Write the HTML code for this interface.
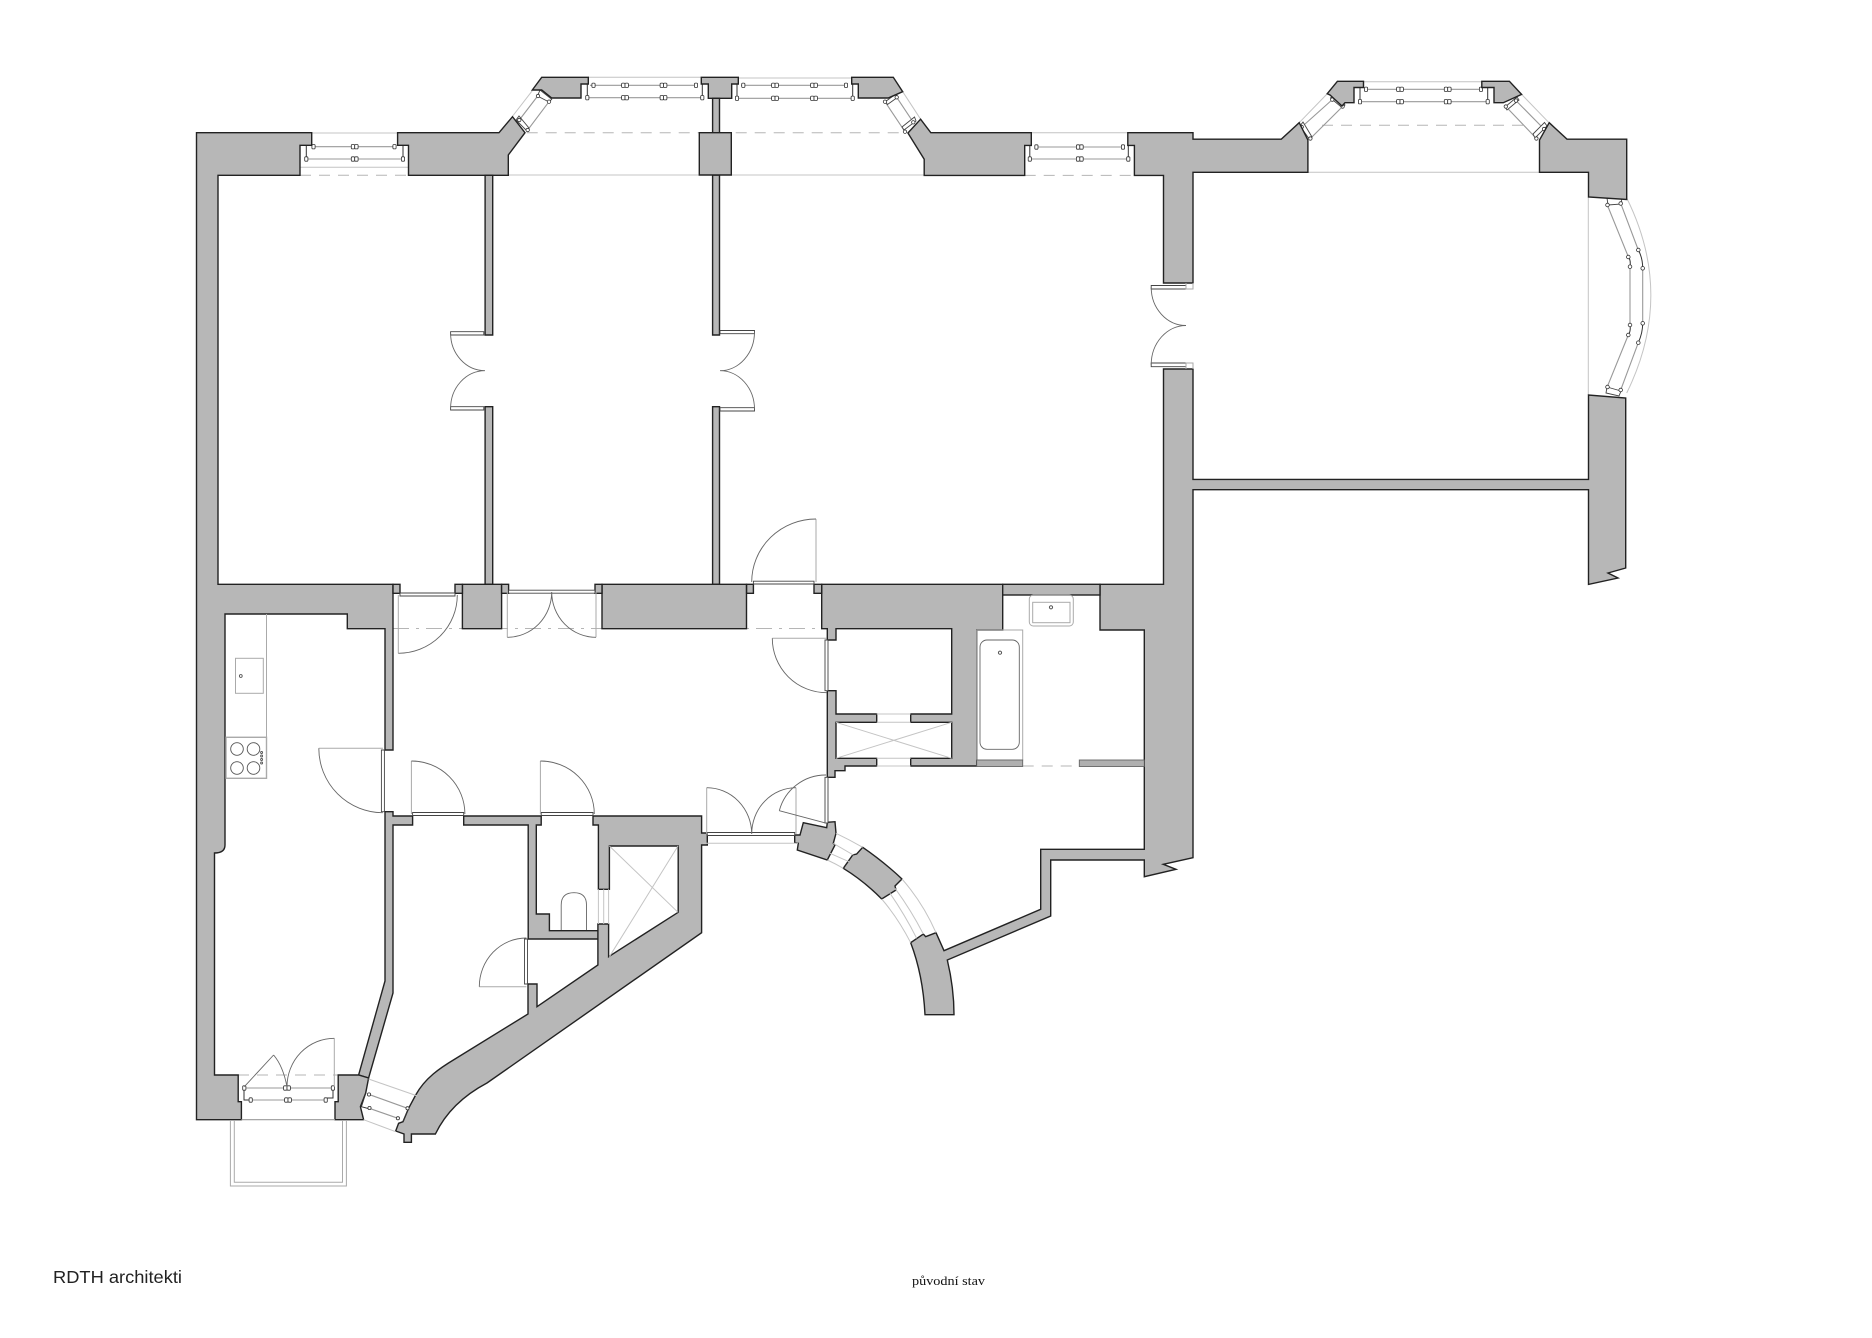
<!DOCTYPE html>
<html><head><meta charset="utf-8"><style>
html,body{margin:0;padding:0;background:#fff}
svg{display:block}
.w{fill:#b7b7b7;stroke:#222;stroke-width:1.4;stroke-linejoin:miter}
.l{fill:none;stroke:#c4c4c4;stroke-width:1}
.g{fill:none;stroke:#999;stroke-width:1.1}
.da{fill:none;stroke:#b5b5b5;stroke-width:1;stroke-dasharray:11 8}
.db{fill:none;stroke:#b5b5b5;stroke-width:1;stroke-dasharray:16 7 3 7}
.a{fill:none;stroke:#666;stroke-width:.9}
.f{fill:none;stroke:#aaa;stroke-width:1}
.k{fill:none;stroke:#333;stroke-width:1}
.fr{fill:#fff;stroke:#444;stroke-width:.9}
#d rect,#o rect{fill:#fff;stroke:#333;stroke-width:.8}
.m circle{fill:#fff;stroke:#333;stroke-width:.8}
</style></head><body>
<svg width="1872" height="1338" viewBox="0 0 1872 1338" xmlns="http://www.w3.org/2000/svg">
<rect width="1872" height="1338" fill="#fff"/>
<defs>
<g id="d"><rect x="-3.4" y="-2.2" width="3.4" height="4.4" rx="1"/><rect x="0" y="-2.2" width="3.4" height="4.4" rx="1"/></g>
<g id="o"><rect x="-1.6" y="-2.2" width="3.2" height="4.4" rx="1"/></g>
</defs>

<!-- light lines and dashes -->
<path class="l" d="M311.7 133H397.6M300 167.3H408.5M588 77.3H701.3M738.3 78H851.7M1031 132.7H1127.8M1363.5 81.7H1481.8M508 175H699M731 175H924M1308 172.3H1539.5"/>
<path class="da" d="M300 175.3H408.5M526.7 132.7H905M1024.7 175.4H1134.4M1322 125.3H1526M1022.7 766H1079.3M238 1075H338"/>
<path class="db" d="M393 628.5H821.7"/>
<path class="g" d="M313 146.7H394.6M306.3 159H403"/>
<path class="g" d="M590 85.3H697M587 97.7H702.7M741 85.3H846M737 98.3H852.7M1036.4 147H1123M1029.8 159H1128.3M1366 89.3H1481M1360 101.7H1487.7M244 1088H333M250.7 1100H325.7"/>

<!-- diagonal windows -->
<path class="l" d="M532.3 90.7L512.7 116M902.7 91.7L920.7 119.3M1327 94L1299.2 122.7M1521.6 94.4L1549 122.7"/>
<path class="g" d="M537.7 96L519.3 120M549 101.7L527.7 130M896.7 97.3L913.3 122.3M885 101.7L905 131.7M1332.3 99.6L1301.7 127M1342.6 106.5L1310.4 138.5M1516 100.6L1544 129M1505.8 106.5L1536.4 138.5"/>
<path class="fr" d="M537.5 96L540 90L551.7 99.3L549 102ZM516 120L519 116L529 128L527 131ZM885.5 101.5L896 94L898 97L887.5 104.5ZM904 130L916 121L914.5 117L902 127ZM1330.5 98L1333 96L1345 105L1342.5 108ZM1300 126L1303 122L1312 137L1310 140ZM1505 107L1517 97L1519 100L1507 110ZM1535 138L1547 126L1544.5 122.5L1533 134Z"/>

<!-- bow window -->
<path class="l" d="M1588.3 197V395M1626.7 198Q1675 295 1626.7 393"/>
<path class="g" d="M1620.7 203.3L1638.3 250M1642.7 268.3V323.3M1638.3 342.7L1620.7 390M1607.3 205L1628.3 256.7M1630 266.7V325M1628.3 335L1607.3 386.7"/>
<path class="k" d="M1638.3 250Q1642.7 258 1642.7 268.3M1642.7 323.3Q1642.7 333 1638.3 342.7M1628.3 257Q1631 260 1630 266.7M1630 325Q1631 331 1628.3 335"/>
<path class="fr" d="M1607 198L1621 196L1622 204L1608 205ZM1607 387L1621 391L1619 396L1606 393Z"/>

<!-- top-window framing -->
<path class="k" d="M306.3 146V159M403 146V159M587.3 84V97.7M702.3 84V97.7M737 84V98.3M852.7 84V98.3M1029.8 146V159M1128.3 146V159M1360 88V101.7M1487.7 88V101.7M244 1087V1090M244 1090V1100H250M333 1087V1098H326"/>

<g>
<use href="#o" x="313.5" y="146.7"/><use href="#d" x="354.7" y="146.7"/><use href="#o" x="394.5" y="146.7"/>
<use href="#o" x="306.3" y="159"/><use href="#d" x="354.7" y="159"/><use href="#o" x="403" y="159"/>
<use href="#o" x="593.5" y="85.3"/><use href="#d" x="625" y="85.3"/><use href="#d" x="663.5" y="85.3"/><use href="#o" x="696" y="85.3"/>
<use href="#o" x="587.3" y="97.7"/><use href="#d" x="625" y="97.7"/><use href="#d" x="663.5" y="97.7"/><use href="#o" x="702.3" y="97.7"/>
<use href="#o" x="743.3" y="85.3"/><use href="#d" x="775" y="85.3"/><use href="#d" x="814" y="85.3"/><use href="#o" x="846" y="85.3"/>
<use href="#o" x="737" y="98.3"/><use href="#d" x="775" y="98.3"/><use href="#d" x="814" y="98.3"/><use href="#o" x="852.7" y="98.3"/>
<use href="#o" x="1036.4" y="147"/><use href="#d" x="1079.8" y="147"/><use href="#o" x="1123" y="147"/>
<use href="#o" x="1029.8" y="159"/><use href="#d" x="1079.8" y="159"/><use href="#o" x="1128.3" y="159"/>
<use href="#o" x="1366" y="89.3"/><use href="#d" x="1400" y="89.3"/><use href="#d" x="1447.7" y="89.3"/><use href="#o" x="1481" y="89.3"/>
<use href="#o" x="1360" y="101.7"/><use href="#d" x="1400" y="101.7"/><use href="#d" x="1447.7" y="101.7"/><use href="#o" x="1487.7" y="101.7"/>
<use href="#o" x="244.3" y="1088"/><use href="#d" x="287" y="1088"/><use href="#o" x="332.9" y="1088"/>
<use href="#o" x="250.7" y="1100"/><use href="#d" x="288" y="1100"/><use href="#o" x="325.7" y="1100"/>
</g>
<g class="m">
<circle cx="538" cy="96" r="1.7"/><circle cx="549" cy="101.7" r="1.7"/><circle cx="519.3" cy="120" r="1.7"/><circle cx="527.7" cy="130" r="1.7"/>
<circle cx="896.7" cy="97.3" r="1.7"/><circle cx="885" cy="101.7" r="1.7"/><circle cx="913.3" cy="122.3" r="1.7"/><circle cx="905" cy="131.7" r="1.7"/>
<circle cx="1332.3" cy="99.6" r="1.7"/><circle cx="1342.6" cy="106.5" r="1.7"/><circle cx="1301.7" cy="127" r="1.7"/><circle cx="1310.4" cy="138.5" r="1.7"/>
<circle cx="1516" cy="100.6" r="1.7"/><circle cx="1505.8" cy="106.5" r="1.7"/><circle cx="1544" cy="129" r="1.7"/><circle cx="1536.4" cy="138.5" r="1.7"/>
<circle cx="1607.5" cy="205" r="1.8"/><circle cx="1620.7" cy="203.5" r="1.8"/><circle cx="1607.5" cy="387" r="1.8"/><circle cx="1620.7" cy="390" r="1.8"/>
<circle cx="1638.3" cy="250" r="1.8"/><circle cx="1642.7" cy="268.3" r="1.8"/><circle cx="1642.7" cy="323.3" r="1.8"/><circle cx="1638.3" cy="342.7" r="1.8"/>
<circle cx="1628.3" cy="257" r="1.8"/><circle cx="1630" cy="266.7" r="1.8"/><circle cx="1630" cy="325" r="1.8"/><circle cx="1628.3" cy="335" r="1.8"/>
</g>

<!-- walls -->
<path class="w" d="M196.5 132.7H311.7V145.3H300V175.3H218V584.3H393V750H385V628.7H347.3V614H225V845Q225 853 214.5 853V1075H238.2V1101.7H241.4V1119.7H196.5Z"/>
<path class="w" d="M397.6 132.7H499L512.5 116.7L525 132.7L508.3 155V175.3H408.5V145.3H397.6Z"/>
<path class="w" d="M541.7 77.3H588.3V84H581V98H551.7L541.7 90H532.3Z"/>
<path class="w" d="M701.3 77.3H738.3V84H731.7V98.3H708.3V84H701.3Z"/>
<path class="w" d="M851.7 77.3H893.3L902.7 91.7L888.3 98H858.3V84H851.7Z"/>
<path class="w" d="M712.6 98.3H719.5V132.7H712.6ZM712.6 175H719.5V335H712.6ZM712.6 406.7H719.5V584.3H712.6ZM485.1 175.3H492.7V335H485.1ZM485.1 406.7H492.7V584.3H485.1Z"/>
<path class="w" d="M699.3 132.7H731.3V175H699.3Z"/>
<path class="w" d="M930.8 132.7H1031.3V145.4H1024.7V175.4H924.2V159.2L907.9 133L920.6 119.2Z"/>
<path class="w" d="M1127.8 132.7H1193V139.2H1281.3L1299.2 122.7L1307.9 140V172.3H1193V283H1163.5V175.4H1134.4V145.4H1127.8Z"/>
<path class="w" d="M1337.4 81.3H1363.5V87.5H1354V102.7H1345L1342 106L1330 95L1327.2 93.7Z"/>
<path class="w" d="M1481.8 81.3H1509.4L1521.6 94.4L1503.3 102.7H1494V87.5H1481.8Z"/>
<path class="w" d="M1549.2 122.7L1567 139.2H1626.7V199.5L1588.5 197V172.3H1539.5V140Z"/>
<path class="w" d="M1163.5 369H1193V479.4H1588.5V395L1625.7 398V568L1608 573L1618 578L1588.5 584.4V489.7H1193V857.7L1163.3 864.3L1176 869.3L1144.3 876.7V860H1050.7V916L947.3 960Q954 988 954 1014.7H925Q923 975 910.7 942.7L923.3 934L925.7 936.7L936 932.7L944 950.7L1040.7 909.3V849.3H1144.3V630H1100V584.3H1163.5Z"/>
<path class="w" d="M821.7 584.3H1002.7V630H976.7V766H910.7V758.3H951.7V722.3H910.7V714H951.7V628.7H836V640H827.3V628.7H821.7Z"/>
<path class="w" d="M827.3 690.7H836V714H876.7V722.3H836V758.3H876.7V766H845V770.7H835V777.3H827.3Z"/>
<rect class="w" x="1002.7" y="584.3" width="97.3" height="10.7"/>
<path class="w" d="M462.4 584.3H501.6V628.7H462.4ZM602 584.3H746.5V628.7H602Z"/>
<path class="w" d="M393 584.3H400V593.3H393ZM455 584.3H462.4V593.3H455ZM501.6 584.3H508.6V593.3H501.6ZM595 584.3H602V593.3H595ZM746.6 584.3H753.4V593.3H746.6ZM814 584.3H821.7V593.3H814Z"/>
<path class="w" d="M385 811.7H393V816H412.6V825H393V993L368.6 1078L358.6 1075L385 981Z"/>
<path class="w" d="M463.7 816H541.2V825H536.3V914H549.4V930.7H598.4V939H528.2V825H463.7Z"/>
<path class="w" d="M338.2 1075H358.6L368.6 1078L365.7 1093L360.4 1106.7L363.6 1119.7H335V1101.7H338.2Z"/>
<path class="w" d="M593 816H701.6V833H707.3V845H701.6V932.7L487 1083C470 1092 448 1108 435.4 1134H411.4V1142.3H404V1134L395.7 1131L398.6 1123.3L403 1121.7L408.6 1108.3L415.7 1095C425 1078 440 1068 455 1059L528 1014V984H537V1006.7L597.9 965V924H608.6V956.7L678.2 912.3V846H609.4V889.3H598.4V825H593Z"/>
<path class="w" d="M803.3 822.7L826.7 827.7L827.3 822.3L835 821.7L836 833.3L833.3 843.3L835 845L827.3 860L797.3 850L798.3 843.3L794.7 842.7L794.7 835L800 835Z"/>
<path class="w" d="M862.7 847.3Q884 862 902 879L895 886L896 890L881.7 899Q864 881 843.3 868.3L852.7 855L856.7 854Z"/>

<!-- curved bay light lines -->
<path class="l" d="M836 833.3Q850 840 862.7 847.3M827.3 860Q836 864 843.3 868.3M833.3 843.3L853.3 855M830 853.3L849 861.7M902 879Q923 903 936 932.7M881.7 899Q898 918 910.7 942.7M895 888.3Q911 910 923.3 934M890 893.3Q905 915 916.7 938.3"/>

<!-- bottom-left bay window -->
<path class="l" d="M368.6 1079L417.5 1096M363.6 1119.7L395.7 1131.7"/>
<path class="g" d="M368.6 1094.3L407.5 1108.3M369.3 1108.3L397.9 1118.3"/>
<path class="k" d="M365.7 1093.3L361.4 1106.7L370 1109M403 1121.7L408.6 1108.3"/>
<g class="m"><circle cx="369" cy="1094.5" r="1.6"/><circle cx="369.5" cy="1108" r="1.6"/><circle cx="407.5" cy="1108.3" r="1.6"/><circle cx="397.9" cy="1118.3" r="1.6"/></g>

<!-- central door leaves -->
<g>
<path class="fr" d="M450.6 331.7H483.8V335H450.6ZM450.6 406.7H483.8V410H450.6ZM720 330.5H754.5V333.7H720ZM720 407.7H754.5V411H720ZM1151.2 285.5H1186V289H1151.2ZM1151.2 363H1186V366.7H1151.2Z"/>
<path class="f" d="M1186 283V289H1193V283M1186 369V363H1193V369"/>
<path class="a" d="M450.6 333.3A34.5 37.4 0 0 0 485 370.7A34.5 37.6 0 0 0 450.6 408.3M754.5 331.7A34.5 39 0 0 1 720 370.7A34.5 38.6 0 0 1 754.5 409.3M1151.2 287.3A34.8 38.2 0 0 0 1186 325.5A34.8 39.3 0 0 0 1151.2 364.8"/>
</g>

<!-- door frames -->
<path class="fr" d="M400 593H455V596H400ZM508.6 590.2H595V593.2H508.6ZM753.4 581.2H814V584H753.4ZM412.6 812.5H463.7V815.5H412.6ZM541.2 812.5H593V815.5H541.2ZM707.3 832.5H794.7V835.5H707.3ZM381.4 750H384.4V811.7H381.4ZM825 640H828V690.7H825ZM825 777.3H828V823H825ZM524.5 939H527.5V984H524.5Z"/>
<path class="l" d="M703 843.3H798"/>

<!-- door leaves and swings -->
<path class="f" d="M398.3 595V653.3M507.3 592V637.3M596 592V637.3M816 582V519M826.7 638.3H772.3M382.9 748.3H318.8M411.4 814V761M540.4 814V761M706.7 834V787.7M796 834V787.7M526.4 986.7H479.3M334.3 1086.7V1038.3"/>
<path class="a" d="M398.3 653.3A59 58.3 0 0 0 457.3 595M507.3 637.3A44.4 45.3 0 0 0 551.7 592M596 637.3A44.3 45.3 0 0 1 551.7 592M816 519A64.3 63 0 0 0 751.7 582M772.3 638.3A54.4 54.4 0 0 0 826.7 692.7M318.8 748.3A64.1 64.4 0 0 0 382.9 812.7M411.4 761A53.5 53 0 0 1 464.9 814M540.4 761A53.9 53 0 0 1 594.3 814M706.7 787.7A45 46.3 0 0 1 751.7 834M796 787.7A44.3 46.3 0 0 0 751.7 834M779.3 810.7L826.7 823.3M779.3 810.7A48 48 0 0 1 826 775M479.3 986.7A47 48.7 0 0 1 526.4 938M244.3 1086.7L273.6 1055M273.6 1055Q283 1066 287 1086.7M334.3 1038.3A47.3 48.4 0 0 0 287 1086.7"/>

<!-- balcony -->
<path class="f" d="M230.4 1120V1186H346.4V1120M234.3 1120V1182.3H342.5V1120"/>
<path class="g" d="M241.4 1119.7H335"/>

<!-- kitchen -->
<path class="f" d="M266.5 614V737.3"/>
<rect x="226" y="737.3" width="40.5" height="41" fill="#fff" stroke="#aaa" stroke-width="1.4"/>
<g fill="none" stroke="#555" stroke-width=".9">
<circle cx="237" cy="749" r="6.3"/><circle cx="253.5" cy="749" r="6.3"/><circle cx="237" cy="768" r="6.3"/><circle cx="253.5" cy="768" r="6.3"/>
<circle cx="261.6" cy="752.5" r="1"/><circle cx="261.6" cy="756" r="1"/><circle cx="261.6" cy="759.5" r="1"/><circle cx="261.6" cy="763" r="1"/>
<circle cx="240.8" cy="676" r="1.4"/>
</g>
<rect class="f" x="235.5" y="658.3" width="27.8" height="35"/>

<!-- WC and shafts -->
<path class="a" d="M561.2 930V905Q561.2 892.7 574 892.7Q586.5 892.7 586.5 905V930"/>
<path class="l" d="M609.4 846L678 912.3M678 846L609.4 956.7M598.4 889.3V924M603.7 889.3V924M608.6 889.3V924M836 722.3L951.7 758.3M836 758.3L951.7 722.3M876.7 714H910.7M876.7 722.3H910.7M876.7 758.3H910.7M876.7 766H910.7"/>

<!-- bathroom -->
<rect class="f" x="1029.3" y="595" width="44" height="31" rx="4"/>
<rect class="f" x="1032.7" y="602.3" width="37.3" height="20.4"/>
<circle cx="1051" cy="607.3" r="1.6" fill="none" stroke="#555"/>
<rect class="f" x="976.7" y="630" width="46" height="130"/>
<rect class="a" x="980" y="640" width="39.3" height="109.3" rx="7"/>
<circle cx="1000" cy="652.7" r="1.6" fill="none" stroke="#555"/>
<rect x="976.7" y="760" width="46" height="6.5" fill="#b0b0b0" stroke="#666" stroke-width=".9"/>
<rect x="1079.3" y="760" width="65" height="6.5" fill="#b0b0b0" stroke="#666" stroke-width=".9"/>

<text x="53" y="1283" font-family="'Liberation Sans',sans-serif" font-size="17.5" fill="#222" textLength="129" lengthAdjust="spacingAndGlyphs">RDTH architekti</text>
<text x="912" y="1285" font-family="'Liberation Serif',serif" font-size="13" fill="#111" textLength="73" lengthAdjust="spacingAndGlyphs">původní stav</text>
</svg>
</body></html>
